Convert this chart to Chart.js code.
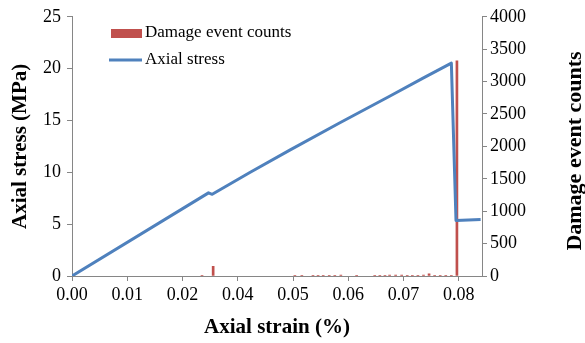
<!DOCTYPE html>
<html>
<head>
<meta charset="utf-8">
<script src="https://cdn.jsdelivr.net/npm/chart.js@4.4.1/dist/chart.umd.min.js"></script>
<style>
  html, body { margin: 0; padding: 0; background: #fff; }
  #grafico { display: block; }
</style>
</head>
<body>
<canvas id="grafico" width="585" height="343"></canvas>
<script>
// axial stress curve
const strainValues = [0, 0.0294, 0.0302, 0.0383, 0.0469, 0.0577, 0.0684, 0.0756, 0.0817, 0.0827, 0.0880];
const stressValues = [0, 8.02, 7.88, 9.99, 12.14, 14.78, 17.34, 19.09, 20.53, 5.36, 5.46];

// damage events
const eventStrain = [0.0280, 0.0304, 0.0480, 0.0495, 0.0519, 0.0530, 0.0541, 0.0554, 0.0566, 0.0579,
  0.0613, 0.0652, 0.0663, 0.0674, 0.0684, 0.0697, 0.0710, 0.0722, 0.0733, 0.0745,
  0.0757, 0.0769, 0.0781, 0.0793, 0.0805, 0.0817, 0.0829];
const eventCounts = [5, 150, 5, 5, 5, 5, 5, 5, 5, 15,
  5, 5, 5, 5, 15, 15, 15, 6, 6, 6,
  15, 35, 6, 6, 6, 6, 3320];

// x axis (excel major unit, labels rounded to 2 decimals)
const xTickValues = [0, 0.0119, 0.0238, 0.0357, 0.0476, 0.0595, 0.0714, 0.0833];
const xTickLabels = ['0.00', '0.01', '0.02', '0.04', '0.05', '0.06', '0.07', '0.08'];

const rojo = '#C0504D';
const azul = '#4F81BD';
const gris = '#868686';
const fuente = '"Liberation Serif", "Times New Roman", serif';

const leyenda = {
  id: 'leyenda',
  afterDraw(chart) {
    const ctx = chart.ctx;
    const area = chart.chartArea;
    const ds = chart.data.datasets;
    ctx.save();
    ctx.font = '17px ' + fuente;
    ctx.textBaseline = 'middle';
    ctx.textAlign = 'left';
    ctx.fillStyle = rojo;
    ctx.fillRect(area.left + 39, 29, 31, 9);
    ctx.fillStyle = '#000';
    ctx.fillText(ds[0].label, area.left + 73, 33);
    ctx.strokeStyle = azul;
    ctx.lineWidth = 3;
    ctx.beginPath();
    ctx.moveTo(area.left + 37, 60);
    ctx.lineTo(area.left + 70, 60);
    ctx.stroke();
    ctx.fillText(ds[1].label, area.left + 73, 60);
    // right title, rotated like excel
    ctx.translate(575, 151);
    ctx.rotate(-Math.PI / 2);
    ctx.font = 'bold 22px ' + fuente;
    ctx.textAlign = 'center';
    ctx.fillText('Damage event counts', 0, 0);
    ctx.restore();
  }
};

new Chart(document.getElementById('grafico'), {
  type: 'bar',
  data: {
    datasets: [{
      type: 'bar',
      label: 'Damage event counts',
      data: eventStrain.map((x, i) => ({ x: x, y: eventCounts[i] })),
      yAxisID: 'y1',
      backgroundColor: rojo,
      barThickness: 2,
      order: 1
    }, {
      type: 'line',
      label: 'Axial stress',
      data: strainValues.map((x, i) => ({ x: x, y: stressValues[i] })),
      yAxisID: 'y',
      borderColor: azul,
      borderWidth: 3,
      borderJoinStyle: 'round',
      pointRadius: 0,
      tension: 0,
      order: 0
    }]
  },
  options: {
    responsive: false,
    animation: false,
    devicePixelRatio: 1,
    layout: { padding: { top: 15, left: 0, right: 0, bottom: 0 } },
    plugins: {
      legend: { display: false },
      tooltip: { enabled: false }
    },
    scales: {
      x: {
        type: 'linear',
        min: 0,
        max: 0.0883,
        offset: false,
        afterBuildTicks: (scale) => { scale.ticks = xTickValues.map(v => ({ value: v })); },
        afterFit: (scale) => { scale.height = 67; },
        grid: { display: true, drawOnChartArea: false, tickLength: 5, color: gris, offset: false },
        border: { color: gris },
        ticks: {
          color: '#000',
          font: { family: fuente, size: 18 },
          padding: 3,
          maxRotation: 0,
          autoSkip: false,
          callback: (value, index) => xTickLabels[index]
        },
        title: {
          display: true,
          text: 'Axial strain (%)',
          color: '#000',
          font: { family: fuente, size: 21, weight: 'bold' },
          padding: { top: 0, bottom: 3 }
        }
      },
      y: {
        position: 'left',
        min: 0,
        max: 25,
        afterFit: (scale) => { scale.width = 72; },
        grid: { display: true, drawOnChartArea: false, tickLength: 5, color: gris },
        border: { color: gris },
        ticks: {
          stepSize: 5,
          color: '#000',
          font: { family: fuente, size: 18 },
          padding: 6
        },
        title: {
          display: true,
          text: 'Axial stress (MPa)',
          color: '#000',
          font: { family: fuente, size: 21, weight: 'bold' },
          padding: { top: 8, bottom: 0 }
        }
      },
      y1: {
        position: 'right',
        min: 0,
        max: 4000,
        afterFit: (scale) => { scale.width = 103; },
        grid: { display: true, drawOnChartArea: false, tickLength: 5, color: gris },
        border: { color: gris },
        ticks: {
          stepSize: 500,
          color: '#000',
          font: { family: fuente, size: 18 },
          padding: 3,
          callback: (value) => String(value)
        }
      }
    }
  },
  plugins: [leyenda]
});
</script>
</body>
</html>
